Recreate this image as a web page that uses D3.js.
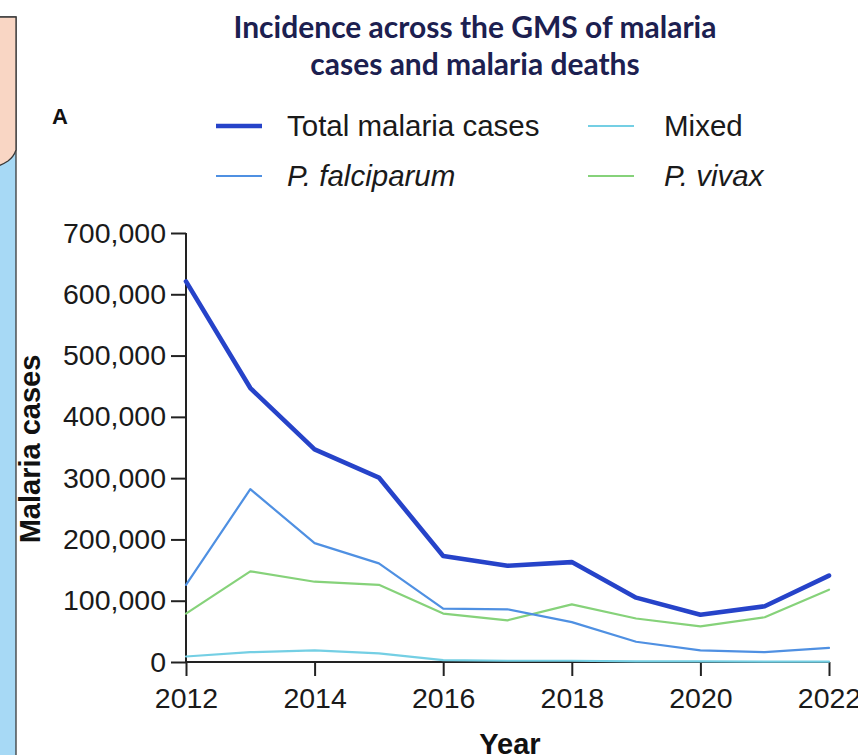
<!DOCTYPE html>
<html>
<head>
<meta charset="utf-8">
<script src="https://cdn.jsdelivr.net/npm/d3@7"></script>
<style>
  html, body { margin: 0; padding: 0; background: #fff; }
  svg { display: block; }
</style>
</head>
<body>
<svg id="chart" width="858" height="755"></svg>
<script>
// Annual malaria cases across the Greater Mekong Subregion, by species
const years = [2012, 2013, 2014, 2015, 2016, 2017, 2018, 2019, 2020, 2021, 2022];
const totalCases   = [621000, 447000, 347000, 301000, 173000, 157000, 163000, 105000, 77000, 91000, 141000];
const falciparum   = [126000, 282000, 194000, 161000, 87000, 86000, 65000, 33000, 19000, 16000, 23000];
const mixed        = [9000, 16000, 19000, 14000, 3000, 2000, 2000, 1000, 1000, 500, 500];
const vivax        = [79000, 148000, 131000, 126000, 79000, 68000, 94000, 71000, 58000, 73000, 118000];

const yTicks = [0, 100000, 200000, 300000, 400000, 500000, 600000, 700000];
const xTicks = [2012, 2014, 2016, 2018, 2020, 2022];

const titleLines = ["Incidence across the GMS of malaria", "cases and malaria deaths"];

const series = [
  { name: "Total malaria cases", values: totalCases, color: "#2643c9", width: 4.6, italic: false },
  { name: "P. falciparum",       values: falciparum, color: "#4f90e2", width: 2.2, italic: true },
  { name: "Mixed",               values: mixed,      color: "#74cfe4", width: 2.2, italic: false },
  { name: "P. vivax",            values: vivax,      color: "#86d27a", width: 2.2, italic: true }
];

const svg = d3.select("#chart");
const font = "'Liberation Sans', Arial, Helvetica, sans-serif";

// Side panel decoration on the left edge
const side = svg.append("g");
side.append("rect")
  .attr("x", -4).attr("y", 17).attr("width", 20).attr("height", 760)
  .attr("fill", "#a7d9f5").attr("stroke", "#3a3a3a").attr("stroke-width", 1.3);
side.append("path")
  .attr("d", "M-4,17 L16,17 L16,150 C14,156 12,158 8,161 C5,163 1,165 -4,167 Z")
  .attr("fill", "#f9d6c4").attr("stroke", "#3a3a3a").attr("stroke-width", 1.3);

// Scales
const x = d3.scaleLinear().domain([2012, 2022]).range([186, 829]);
const y = d3.scaleLinear().domain([0, 700000]).range([662, 233]);

// Title
const title = svg.append("g")
  .attr("font-family", "Lato, 'Open Sans', sans-serif")
  .attr("font-weight", 700)
  .attr("fill", "#1c2050")
  .attr("text-anchor", "middle");
const t1 = title.append("text").attr("x", 475).attr("y", 38).attr("font-size", 24).text(titleLines[0]);
const len = t1.node().getComputedTextLength();
const titleSize = 24 * 483 / len;
t1.attr("font-size", titleSize);
title.append("text").attr("x", 475).attr("y", 75).attr("font-size", titleSize).text(titleLines[1]);

// Panel letter
svg.append("text")
  .attr("x", 52).attr("y", 124)
  .attr("font-family", font).attr("font-weight", 700).attr("font-size", 22)
  .attr("fill", "#111").text("A");

// Legend
const legendPos = [
  { lx: 216, ly: 126 },
  { lx: 216, ly: 176 },
  { lx: 588, ly: 126 },
  { lx: 588, ly: 176 }
];
const legend = svg.append("g");
series.forEach((s, i) => {
  const p = legendPos[i];
  legend.append("line")
    .attr("x1", p.lx).attr("x2", p.lx + 46)
    .attr("y1", p.ly).attr("y2", p.ly)
    .attr("stroke", s.color).attr("stroke-width", s.width);
  legend.append("text")
    .attr("x", p.lx + (i < 2 ? 71 : 76)).attr("y", p.ly + 10)
    .attr("font-family", font).attr("font-size", 29.5)
    .attr("font-style", s.italic ? "italic" : "normal")
    .attr("fill", "#1a1a1a")
    .text(s.name);
});

// Axes
const yAxis = svg.append("g")
  .attr("transform", `translate(${x(2012)},0)`)
  .call(d3.axisLeft(y).tickValues(yTicks).tickFormat(d3.format(",")).tickSize(15).tickPadding(5));
const xAxis = svg.append("g")
  .attr("transform", `translate(0,${y(0)})`)
  .call(d3.axisBottom(x).tickValues(xTicks).tickFormat(d3.format("d")).tickSize(14).tickPadding(12));

[yAxis, xAxis].forEach(a => {
  a.select(".domain").attr("stroke", "#222").attr("stroke-width", 2);
  a.selectAll(".tick line").attr("stroke", "#222").attr("stroke-width", 2);
  a.selectAll(".tick text")
    .attr("font-family", font).attr("font-size", 28.5).attr("fill", "#1a1a1a");
});
// axis lines end at the data range
yAxis.select(".domain").attr("d", `M0,${y(700000)}V${y(0)}`);
xAxis.select(".domain").attr("d", `M${x(2012)},0H${x(2022)}`);

// Axis titles
svg.append("text")
  .attr("transform", `translate(40,449) rotate(-90)`)
  .attr("text-anchor", "middle")
  .attr("font-family", font).attr("font-weight", 700).attr("font-size", 29)
  .attr("fill", "#111").text("Malaria cases");
svg.append("text")
  .attr("x", 510).attr("y", 754)
  .attr("text-anchor", "middle")
  .attr("font-family", font).attr("font-weight", 700).attr("font-size", 29)
  .attr("fill", "#111").text("Year");

// Series lines (thin ones first, total on top)
const line = d3.line().x((d, i) => x(years[i])).y(d => y(d));
const order = [2, 3, 1, 0];
order.forEach(k => {
  const s = series[k];
  svg.append("path")
    .datum(s.values)
    .attr("d", line)
    .attr("fill", "none")
    .attr("stroke", s.color)
    .attr("stroke-width", s.width)
    .attr("stroke-linejoin", "round")
    .attr("stroke-linecap", "round");
});
</script>
</body>
</html>
